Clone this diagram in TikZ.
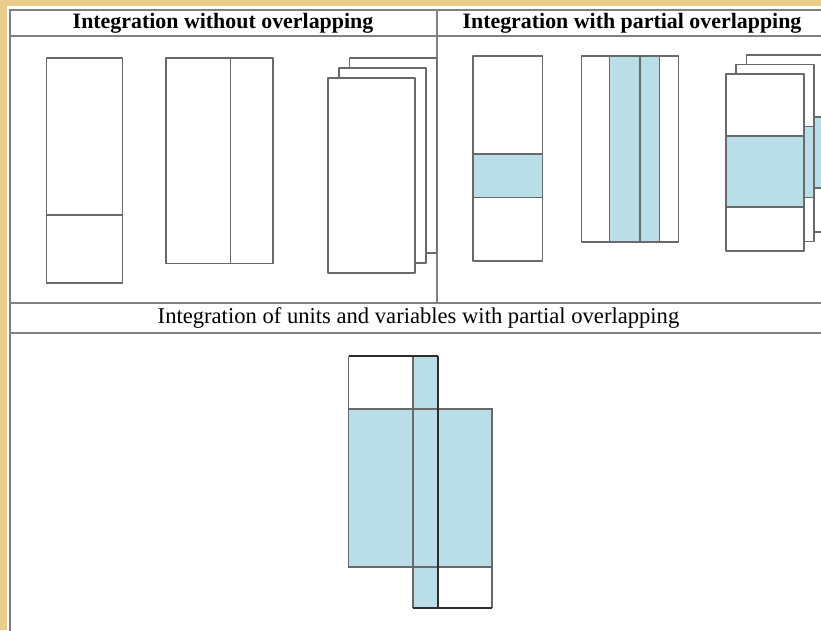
\documentclass[tikz,border=0pt]{standalone}
\usepackage{fontspec}
\setmainfont{Liberation Serif}
\definecolor{paper}{RGB}{234,204,140}
\definecolor{rule}{RGB}{128,128,128}
\definecolor{edge}{RGB}{105,105,105}
\definecolor{darkedge}{RGB}{45,45,45}
\definecolor{share}{RGB}{185,222,231}
\begin{document}
\begin{tikzpicture}[x=1pt,y=-1pt,
  tablerule/.style={draw=rule,line width=2pt},
  unit/.style={draw=edge,line width=1.8pt,fill=white,line join=round},
  band/.style={draw=edge,line width=1.8pt,fill=share},
  thinedge/.style={draw=edge,line width=1.8pt},
  strong/.style={draw=darkedge,line width=2pt},
  headbold/.style={font=\fontsize{21.9}{24}\selectfont\bfseries,inner sep=0pt},
  headplain/.style={font=\fontsize{22.6}{25}\selectfont,inner sep=0pt}]
\useasboundingbox (0,0) rectangle (821,630);
% paper background and white sheet
\fill[paper] (0,0) rectangle (821,630);
\fill[white] (6.5,5.5) rectangle (830,640);

% table frame
\draw[tablerule] (830,10) -- (9.5,10) -- (9.5,640);
\draw[tablerule] (9.5,36) -- (830,36);
\draw[tablerule] (437,10) -- (437,303);
\draw[tablerule] (9.5,303) -- (830,303);
\draw[tablerule] (9.5,333) -- (830,333);

% headings
\node[headbold] (h1) at (223,23) {Integration without overlapping};
\node[headbold] (h2) at (632,23) {Integration with partial overlapping};
\node[headplain] (h3) at (418.5,318) {Integration of units and variables with partial overlapping};

% ---- integration without overlapping ----
\draw[unit] (46.5,58) rectangle (122.5,283);
\draw[thinedge] (46.5,215) -- (122.5,215);

\draw[unit] (166,58) rectangle (273,263.5);
\draw[thinedge] (230.5,58) -- (230.5,263.5);

\foreach \dx/\dy in {21.5/-20, 11/-10, 0/0}{
  \draw[unit] (328+\dx,78+\dy) rectangle ++(87,195);
}

% ---- integration with partial overlapping ----
\draw[unit] (473,56) rectangle (542.5,261);
\draw[band] (473,154) rectangle (542.5,197.5);

\draw[unit] (581.5,56) rectangle (678.5,242);
\draw[band] (609.5,56) rectangle (640,242);
\draw[band] (640,56) rectangle (659.5,242);

\foreach \dx/\dy in {20.5/-19, 10/-9.5, 0/0}{
  \draw[unit] (726+\dx,74+\dy) rectangle ++(78,177);
  \draw[band] (726+\dx,136+\dy) rectangle ++(78,71);
}

% ---- units and variables with partial overlapping ----
\fill[white] (348.5,356) rectangle (413,409);
\fill[white] (438,567) rectangle (492,608);
\fill[share] (348.5,409) rectangle (492,567);
\fill[share] (413,356) rectangle (438,608);
\draw[thinedge] (348.5,356) -- (348.5,567) -- (492,567);
\draw[thinedge] (348.5,409) -- (492,409) -- (492,608);
\draw[thinedge] (413,356) -- (413,608);
\draw[strong] (348.5,356) -- (438,356);
\draw[strong] (438,356) -- (438,608);
\draw[strong] (413,608) -- (492,608);
\end{tikzpicture}
\end{document}
